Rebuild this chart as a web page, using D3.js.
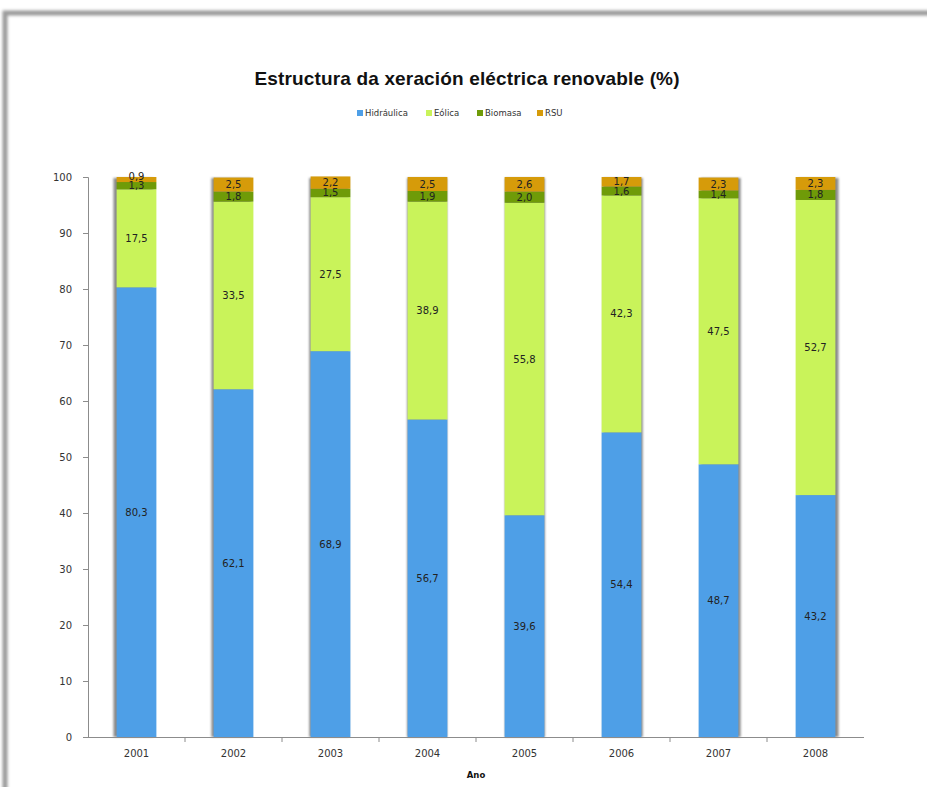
<!DOCTYPE html>
<html>
<head>
<meta charset="utf-8">
<script src="https://cdn.jsdelivr.net/npm/d3@7"></script>
<style>
  html, body { margin: 0; padding: 0; background: #fff; }
  svg { display: block; }
</style>
</head>
<body>
<svg width="927" height="787"></svg>
<script>
(function(){
    'use strict';

    // data
    const years = ["2001", "2002", "2003", "2004", "2005", "2006", "2007", "2008"];
    const series = ["Hidráulica", "Eólica", "Biomasa", "RSU"];
    const hidraulica = [80.3, 62.1, 68.9, 56.7, 39.6, 54.4, 48.7, 43.2];
    const eolica     = [17.5, 33.5, 27.5, 38.9, 55.8, 42.3, 47.5, 52.7];
    const biomasa    = [1.3, 1.8, 1.5, 1.9, 2.0, 1.6, 1.4, 1.8];
    const rsu        = [0.9, 2.5, 2.2, 2.5, 2.6, 1.7, 2.3, 2.3];
    const yTicks = [0, 10, 20, 30, 40, 50, 60, 70, 80, 90, 100];

    const colors = ["#4e9fe7", "#c9f35a", "#6f9b08", "#d69b0a"];

    const rows = years.map((y, i) => ({
        year: y,
        "Hidráulica": hidraulica[i],
        "Eólica": eolica[i],
        "Biomasa": biomasa[i],
        "RSU": rsu[i]
    }));

    const svg = d3.select("svg");

    // blur for the frame and bar shadows
    const defs = svg.append("defs");
    defs.append("filter").attr("id", "blur")
        .attr("x", "-20%").attr("y", "-20%").attr("width", "140%").attr("height", "140%")
        .append("feGaussianBlur").attr("stdDeviation", 1.6);
    defs.append("filter").attr("id", "blur2")
        .attr("x", "-20%").attr("y", "-5%").attr("width", "140%").attr("height", "110%")
        .append("feGaussianBlur").attr("stdDeviation", 1.2);

    // frame
    svg.append("path")
        .attr("d", "M5,800 L5,13 L940,13")
        .attr("fill", "none")
        .attr("stroke", "#9a9a9a")
        .attr("stroke-width", 5)
        .attr("filter", "url(#blur)");

    const margin = {left: 88, right: 63, top: 177, bottom: 50};
    const x = d3.scaleBand()
        .domain(years)
        .range([margin.left, 927 - margin.right])
        .paddingInner(0.59)
        .paddingOuter(0.295);
    const y = d3.scaleLinear()
        .domain([0, 100])
        .range([737, 177]);

    const stacked = d3.stack().keys(series)(rows);

    // shadows behind bars
    svg.append("g")
        .selectAll("rect")
        .data(rows)
        .join("rect")
        .attr("x", (d, i) => x(d.year) + (i - 3.5) * 0.9)
        .attr("y", y(100) + 1)
        .attr("width", x.bandwidth())
        .attr("height", y(0) - y(100) - 1)
        .attr("fill", "#8a8a8a")
        .attr("filter", "url(#blur2)");

    // bars
    const layers = svg.append("g")
        .selectAll("g")
        .data(stacked)
        .join("g")
        .attr("fill", (d, i) => colors[i]);

    layers.selectAll("rect")
        .data(d => d)
        .join("rect")
        .attr("x", d => x(d.data.year))
        .attr("y", d => y(d[1]))
        .attr("width", x.bandwidth())
        .attr("height", d => y(d[0]) - y(d[1]));

    // value labels
    const fmt = v => d3.format(".1f")(v).replace(".", ",");
    const labels = svg.append("g")
        .attr("font-family", "DejaVu Sans, Verdana, sans-serif")
        .attr("font-size", 10)
        .attr("fill", "#222")
        .attr("text-anchor", "middle");

    stacked.forEach((layer, li) => {
        labels.selectAll(null)
            .data(layer)
            .join("text")
            .attr("x", d => x(d.data.year) + x.bandwidth() / 2)
            .attr("y", d => {
                const v = d[1] - d[0];
                if (v < 1.2) return y(d[1]) - 1;      // too thin, label sits above
                return (y(d[0]) + y(d[1])) / 2;
            })
            .attr("dy", "0.35em")
            .text(d => fmt(d[1] - d[0]));
    });

    // y axis
    const yAxis = svg.append("g")
        .attr("transform", `translate(${margin.left},0)`)
        .call(d3.axisLeft(y).tickValues(yTicks).tickSize(5).tickPadding(11));
    yAxis.selectAll("path, line").attr("stroke", "#8c8c8c");
    yAxis.selectAll("text")
        .attr("font-family", "DejaVu Sans, Verdana, sans-serif")
        .attr("font-size", 10)
        .attr("fill", "#333");

    // x axis
    const xAxis = svg.append("g")
        .attr("transform", `translate(0,${y(0)})`)
        .call(d3.axisBottom(x).tickSize(0).tickPadding(13));
    xAxis.select("path").attr("stroke", "#8c8c8c").attr("d", `M${margin.left},0.5H${927 - margin.right}`);
    xAxis.selectAll("text")
        .attr("font-family", "DejaVu Sans, Verdana, sans-serif")
        .attr("font-size", 10)
        .attr("fill", "#333");
    // boundary ticks between categories
    const step = x.step();
    xAxis.selectAll("line.sep")
        .data(d3.range(1, years.length))
        .join("line")
        .attr("class", "sep")
        .attr("x1", i => margin.left + i * step)
        .attr("x2", i => margin.left + i * step)
        .attr("y1", 0)
        .attr("y2", 5)
        .attr("stroke", "#8c8c8c");

    // axis title
    svg.append("text")
        .attr("x", 476)
        .attr("y", 778)
        .attr("text-anchor", "middle")
        .attr("font-family", "DejaVu Sans, Verdana, sans-serif")
        .attr("font-weight", "bold")
        .attr("font-size", 8.5)
        .attr("fill", "#111")
        .text("Ano");

    // title
    svg.append("text")
        .attr("x", 467)
        .attr("y", 85)
        .attr("text-anchor", "middle")
        .attr("font-family", "Liberation Sans, Arial, sans-serif")
        .attr("font-weight", "bold")
        .attr("font-size", 19)
        .attr("fill", "#111")
        .attr("textLength", 425)
        .text("Estructura da xeración eléctrica renovable (%)");

    // legend
    const legendX = [357, 426, 477, 537];
    const legend = svg.append("g")
        .selectAll("g")
        .data(series)
        .join("g")
        .attr("transform", (d, i) => `translate(${legendX[i]},113)`);
    legend.append("rect")
        .attr("x", 0).attr("y", -3)
        .attr("width", 6).attr("height", 6)
        .attr("fill", (d, i) => colors[i]);
    legend.append("text")
        .attr("x", 8)
        .attr("dy", "0.35em")
        .attr("font-family", "DejaVu Sans, Verdana, sans-serif")
        .attr("font-size", 8.5)
        .attr("fill", "#333")
        .text(d => d);
})();
</script>
</body>
</html>
